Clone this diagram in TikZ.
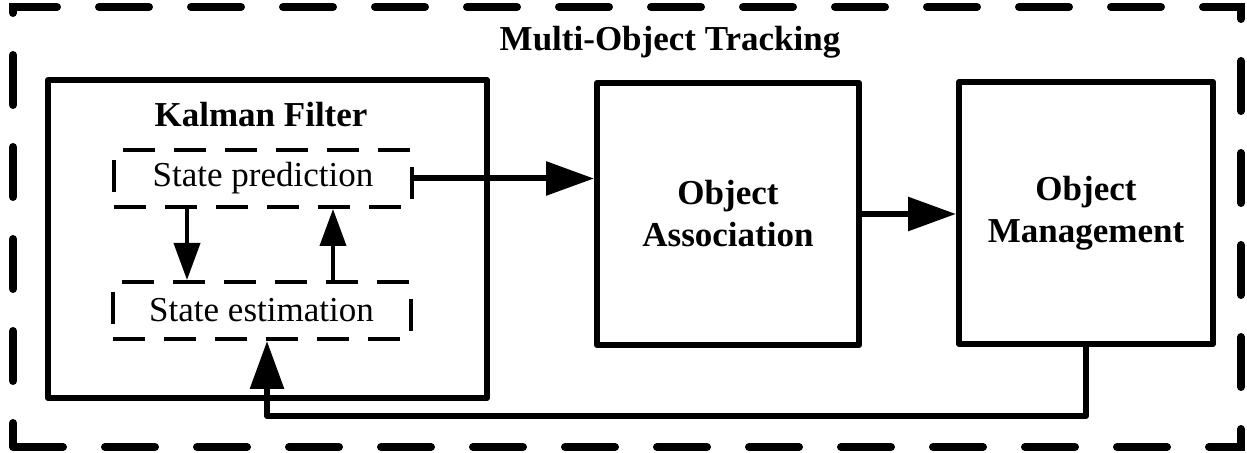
\documentclass[tikz,border=0pt]{standalone}
\usepackage{fontspec}
\setmainfont{Liberation Serif}
\usetikzlibrary{arrows.meta, calc}

\begin{document}
\begin{tikzpicture}[x=0.5pt, y=-0.5pt,
    every node/.style={font=\fontsize{17.5}{21}\selectfont, inner sep=0pt},
    frame/.style={draw, line width=4pt, line cap=round, dash pattern=on 25pt off 21pt},
    block/.style={draw, line width=3pt, line join=round, align=center, font=\fontsize{17.5}{21}\selectfont\bfseries},
    substep/.style={draw, line width=2pt, dash pattern=on 16pt off 9.5pt, minimum width=149pt, minimum height=28.5pt},
    bigarrow/.style={line width=3pt, -{Triangle[length=24pt, width=16.5pt]}},
    smallarrow/.style={line width=2pt, -{Triangle[length=18.5pt, width=13pt]}}]
\useasboundingbox (0,0) rectangle (1247,453);

% Outer frame
\node[frame, minimum width=614pt, minimum height=220pt] (mot) at (627,227) {};
\node[font=\fontsize{17.5}{21}\selectfont\bfseries] (motlabel) at (670,42) {Multi-Object Tracking};

% Kalman filter
\node[block, minimum width=219.5pt, minimum height=159pt] (kf) at (267.5,239) {};
\node[font=\fontsize{17.5}{21}\selectfont\bfseries] (kflabel) at (261,115) {Kalman Filter};
\node[substep] (sp) at (263,178.5) {State prediction};
\node[substep] (se) at (261.5,310.5) {State estimation};
\draw[smallarrow] ([xshift=-38pt]sp.south) -- ([xshift=-38pt]sp.south |- se.north);
\draw[smallarrow] ([xshift=35pt]sp.south |- se.north) -- ([xshift=35pt]sp.south);

% Association and management
\node[block, minimum width=131pt, minimum height=131pt] (oa) at (728,214) {Object\\Association};
\node[block, minimum width=127pt, minimum height=131pt] (om) at (1086,213) {Object\\Management};
\draw[bigarrow] (sp.east) -- (sp.east -| oa.west);
\draw[bigarrow] (oa.east) -- (oa.east -| om.west);

% Feedback
\coordinate (fb) at (1086,416);
\draw[bigarrow, line join=round] (om.south) |- ([xshift=2.75pt]se.south |- fb) -- ([xshift=2.75pt]se.south);
\end{tikzpicture}
\end{document}
